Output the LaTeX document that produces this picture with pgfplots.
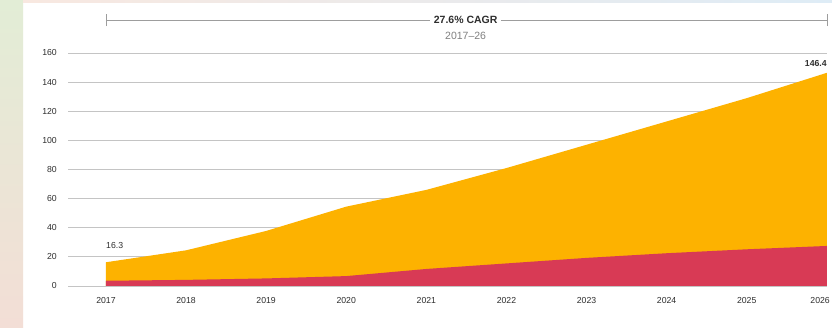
\documentclass[border=0pt]{standalone}
\usepackage{pgfplots}
\pgfplotsset{compat=1.18}
\usepackage{fontspec}
\setmainfont{Liberation Sans}
\definecolor{orangeC}{HTML}{FDB200}
\definecolor{redC}{HTML}{D83A55}
\definecolor{gridC}{HTML}{C4C4C4}
\definecolor{tickC}{HTML}{2E2E2E}
\begin{document}
\begin{tikzpicture}[x=1pt,y=1pt]
\useasboundingbox (0,0) rectangle (832,328);
\clip (0,0) rectangle (832,328);
\fill[white] (0,0) rectangle (832,328);
\shade[top color={rgb,255:red,226;green,237;blue,214}, middle color={rgb,255:red,246;green,236;blue,228}, bottom color={rgb,255:red,243;green,222;blue,214}] (0,0) rectangle (23,328);
\shade[left color={rgb,255:red,248;green,232;blue,224}, right color={rgb,255:red,222;green,236;blue,246}] (23,325) rectangle (832,328);
\begin{axis}[
  at={(68pt,42pt)}, anchor=south west,
  scale only axis, width=758.9pt, height=233pt,
  xmin=2016.526, xmax=2026, ymin=0, ymax=160,
  clip=false,
  axis line style={draw=none},
  major tick length=0pt,
  ytick={0,20,...,160},
  xtick={2017,...,2026},
  xticklabels={2017,2018,2019,2020,2021,2022,2023,2024,2025,\makebox[0pt][r]{2026\kern-3pt}},
  ymajorgrids, grid style={gridC, line width=0.8pt},
  /pgf/number format/assume math mode=true,
  tick label style={font=\fontsize{8.7}{10}\selectfont, text=tickC, inner sep=0pt},
  yticklabel style={anchor=east, xshift=-11pt},
  xticklabel style={anchor=center, yshift=-15pt},
]
\addplot[fill=orangeC, draw=none] coordinates {
 (2017,16.3) (2018,24.5) (2019,37.8) (2020,54.5) (2021,66) (2022,81) (2023,97) (2024,113) (2025,129) (2026,146.4)
} \closedcycle;
\addplot[fill=redC, draw=none] coordinates {
 (2017,3.6) (2018,4.2) (2019,5.2) (2020,6.8) (2021,11.7) (2022,15.5) (2023,19.3) (2024,22.5) (2025,25.2) (2026,27.5)
} \closedcycle;
\draw[gridC!80!black, line width=0.7pt] (axis cs:2017,182.7) -- (axis cs:2026,182.7);
\draw[gridC!80!black, line width=0.7pt] (axis cs:2017,178.5) -- (axis cs:2017,186.8);
\draw[gridC!80!black, line width=0.7pt] (axis cs:2026,178.5) -- (axis cs:2026,186.8);
\node[fill=white, inner sep=4pt, font=\fontsize{10.5}{12}\selectfont\bfseries, text=tickC] at (axis cs:2021.49,182.7) {27.6\% CAGR};
\node[inner sep=0pt, font=\fontsize{10.5}{12}\selectfont, text=gray] at (axis cs:2021.49,171.5) {2017–26};
\node[anchor=west, inner sep=0pt, font=\fontsize{8.7}{10}\selectfont, text=tickC] at (axis cs:2017,27.5) {16.3};
\node[anchor=east, inner sep=0pt, font=\fontsize{8.7}{10}\selectfont\bfseries, text=tickC] at (axis cs:2026,153) {146.4};
\end{axis}
\end{tikzpicture}
\end{document}
